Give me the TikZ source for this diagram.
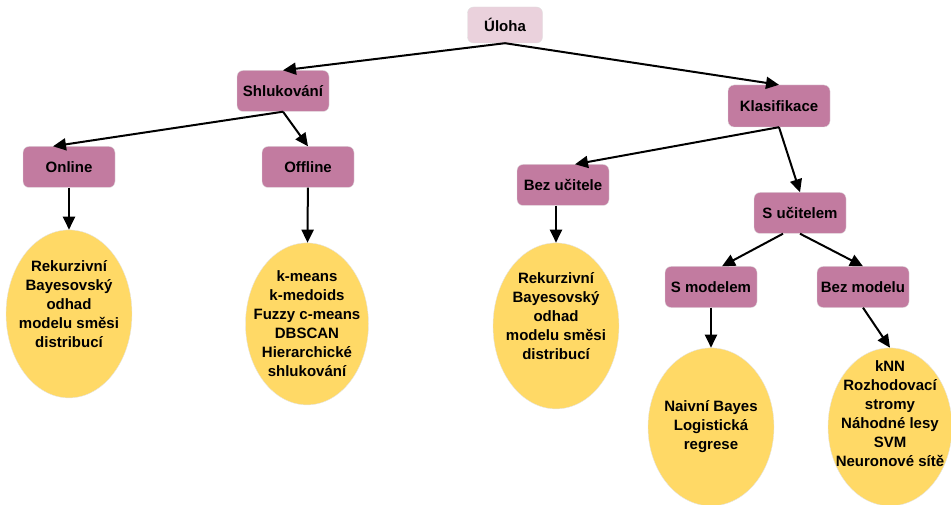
\documentclass[tikz,border=0pt]{standalone}
\usepackage{fontspec}
\setmainfont{Liberation Sans}
\usetikzlibrary{arrows.meta, positioning, shapes.geometric}

\definecolor{rootpink}{HTML}{EAD1DC}
\definecolor{boxpink}{HTML}{C27BA0}
\definecolor{leafyellow}{HTML}{FFD966}

\begin{document}
\begin{tikzpicture}[
    x=1pt, y=-1pt,
    node distance=40pt,
    every node/.style={font=\fontsize{15}{19}\selectfont\bfseries},
    box/.style={rectangle, rounded corners=6pt, draw=black!12, fill=boxpink, minimum width=92pt, minimum height=41pt, inner sep=0pt},
    leaf/.style={ellipse, draw=black!10, fill=leafyellow, inner sep=0pt},
    leaftext/.style={align=center},
    every edge/.style={draw, line width=2pt, -{Triangle[length=13pt, width=12pt]}}
]
\useasboundingbox (0,0) rectangle (951,505);

\node (uloha) [box, fill=rootpink, minimum width=75pt, minimum height=36pt] at (505,25) {Úloha};
\node (shluk) [box] at (283,91) {Shlukování};
\node (klas) [box, minimum width=102pt, minimum height=42pt] at (779,106) {Klasifikace};

\node (online) [box] at (69,167) {Online};
\node (offline) [box] at (308,167) {Offline};
\node (bezuc) [box] at (563,185) {Bez učitele};
\node (sucit) [box] at (800,213) {S učitelem};
\node (smodel) [box] at (711,287) {S modelem};
\node (bezmodel) [box] at (863,287) {Bez modelu};

\node (e1) [leaf, below=42pt of online, minimum width=126pt, minimum height=168pt,
    label={[leaftext, yshift=10pt]center:{Rekurzivní\\Bayesovský\\odhad\\modelu směsi\\distribucí}}] {};
\node (e2) [leaf, below=55pt of offline, xshift=-1pt, minimum width=123pt, minimum height=162pt,
    label={[leaftext]center:{k-means\\k-medoids\\Fuzzy c-means\\DBSCAN\\Hierarchické\\shlukování}}] {};
\node (e3) [leaf, below=37pt of bezuc, xshift=-7pt, minimum width=126pt, minimum height=166pt,
    label={[leaftext, yshift=10pt]center:{Rekurzivní\\Bayesovský\\odhad\\modelu směsi\\distribucí}}] {};
\node (e4) [leaf, below=40pt of smodel, minimum width=126pt, minimum height=158pt,
    label={[leaftext]center:{Naivní Bayes\\Logistická\\regrese}}] {};
\node (e5) [leaf, below=40pt of bezmodel, xshift=27pt, minimum width=124pt, minimum height=158pt,
    label={[leaftext, yshift=13pt]center:{kNN\\Rozhodovací\\stromy\\Náhodné lesy\\SVM\\Neuronové sítě}}] {};

\draw (uloha.south) edge (shluk.north) edge (klas.north);

\draw (shluk.south) edge ([xshift=-16pt]online.north) edge (offline.north);
\draw (klas.south) edge ([xshift=12pt]bezuc.north) edge (sucit.north);

\draw ([xshift=-17pt]sucit.south) edge ([xshift=11pt]smodel.north);
\draw (sucit.south) edge (bezmodel.north);

\draw (online) edge (e1);
\draw (offline) edge (e2);
\draw (bezuc.south -| e3.north) edge (e3.north);
\draw (smodel) edge (e4);
\draw (bezmodel.south) edge (e5.north);

\end{tikzpicture}
\end{document}
